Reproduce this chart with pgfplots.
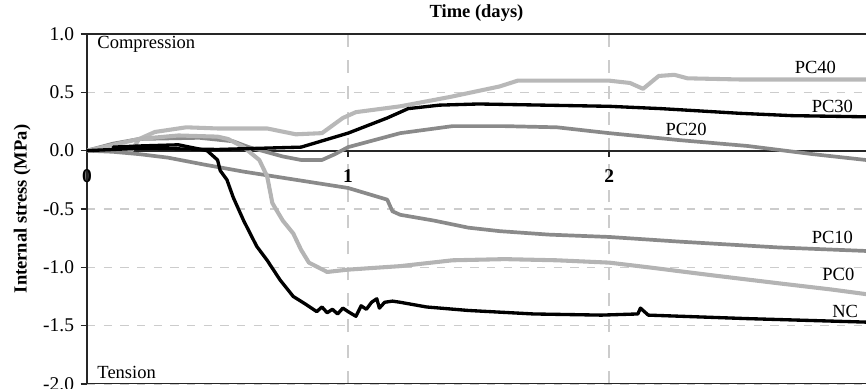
\documentclass[border=0pt]{standalone}
\usepackage{pgfplots}
\pgfplotsset{compat=1.18}
\usepackage{fontspec}
\setmainfont{Liberation Serif}
\definecolor{lg}{HTML}{B8B8B8}
\definecolor{mg}{HTML}{8A8A8A}
\definecolor{pz}{HTML}{B4B4B4}
\definecolor{gridc}{HTML}{CCCCCC}
\begin{document}
\begin{tikzpicture}
\begin{axis}[
  scale only axis, width=420.7pt, height=189pt,
  xmin=0, xmax=2.984, ymin=-2, ymax=1,
  axis y line=left, axis x line=middle,
  hide obscured x ticks=false,
  axis line style={-, line width=1.1pt, color=black!85},
  xtick={0,1,2}, xticklabels={0,1,2},
  ytick={-2,-1.5,-1,-0.5,0,0.5,1},
  yticklabels={-2.0,-1.5,-1.0,-0.5,0.0,0.5,1.0},
  tick align=outside, major tick length=3.5pt,
  tick style={line width=0.8pt, black!85},
  ticklabel style={font=\fontsize{10.5}{12}\selectfont},
  xticklabel style={font=\fontsize{10.5}{12}\selectfont\bfseries, yshift=-3pt},
  /pgf/number format/assume math mode=true,
  xmajorgrids, ymajorgrids,
  x grid style={gridc, line width=0.8pt, dash pattern=on 7pt off 7pt},
  y grid style={gridc, line width=0.8pt, dash pattern=on 4.5pt off 4.5pt},
  title={\textbf{Time (days)}},
  title style={yshift=-3pt},
  ylabel={\textbf{Internal stress (MPa)}},
  every axis plot/.append style={line join=round, line cap=round},
]
% PC40
\addplot[lg, line width=2.2pt] coordinates {
(0,0) (0.1,0.0) (0.17,0.0) (0.2,0.1) (0.26,0.16) (0.38,0.2) (0.5,0.19) (0.69,0.19)
(0.8,0.14) (0.9,0.15) (0.98,0.28) (1.03,0.33) (1.2,0.38) (1.39,0.46) (1.58,0.55)
(1.65,0.6) (1.75,0.6) (2.0,0.6) (2.08,0.58) (2.13,0.53) (2.19,0.64) (2.25,0.65)
(2.3,0.62) (2.5,0.61) (2.984,0.61)};
% PC20
\addplot[mg, line width=2.0pt] coordinates {
(0,0) (0.1,0.06) (0.2,0.1) (0.43,0.11) (0.56,0.08) (0.62,0.03) (0.75,-0.05)
(0.82,-0.08) (0.9,-0.08) (0.95,-0.03) (1.0,0.03) (1.2,0.15) (1.4,0.21) (1.6,0.21)
(1.8,0.2) (2.0,0.15) (2.27,0.09) (2.53,0.04) (2.78,-0.03) (2.984,-0.08)};
% PC10
\addplot[mg, line width=2.0pt] coordinates {
(0,0) (0.1,-0.01) (0.2,-0.03) (0.31,-0.06) (0.45,-0.12) (0.6,-0.18) (0.8,-0.25)
(1.0,-0.32) (1.15,-0.42) (1.17,-0.52) (1.2,-0.55) (1.33,-0.6) (1.46,-0.66)
(1.58,-0.69) (1.77,-0.72) (2.0,-0.74) (2.27,-0.78) (2.65,-0.83) (2.984,-0.86)};
% PC0
\addplot[pz, line width=2.2pt] coordinates {
(0,0) (0.1,0.05) (0.2,0.1) (0.35,0.13) (0.5,0.12) (0.54,0.1) (0.6,0.03) (0.66,-0.08)
(0.69,-0.22) (0.71,-0.45) (0.75,-0.6) (0.79,-0.71) (0.82,-0.85) (0.85,-0.96)
(0.92,-1.04) (1.0,-1.02) (1.2,-0.99) (1.4,-0.94) (1.6,-0.93) (1.8,-0.94)
(2.0,-0.96) (2.15,-1.0) (2.4,-1.07) (2.66,-1.14) (2.85,-1.19) (2.984,-1.23)};
% PC30
\addplot[black, line width=1.8pt] coordinates {
(0,0) (0.2,0.02) (0.5,0.01) (0.82,0.03) (1.0,0.15) (1.15,0.28) (1.23,0.36)
(1.35,0.39) (1.5,0.4) (1.75,0.39) (2.0,0.38) (2.2,0.36) (2.5,0.32) (2.7,0.3) (2.984,0.29)};
% NC
\addplot[black, line width=1.8pt] coordinates {
(0.1,0.03) (0.2,0.04) (0.35,0.05) (0.46,0.0) (0.5,-0.08) (0.51,-0.17) (0.536,-0.25)
(0.56,-0.4) (0.6,-0.6) (0.65,-0.82) (0.69,-0.94) (0.74,-1.11) (0.79,-1.25)
(0.84,-1.32) (0.86,-1.35) (0.88,-1.38) (0.9,-1.34) (0.92,-1.39) (0.94,-1.36)
(0.96,-1.4) (0.98,-1.35) (1.0,-1.38) (1.03,-1.42) (1.05,-1.33) (1.07,-1.36)
(1.09,-1.3) (1.11,-1.27) (1.12,-1.35) (1.14,-1.3) (1.17,-1.29) (1.2,-1.3)
(1.3,-1.34) (1.46,-1.37) (1.71,-1.4) (1.97,-1.41) (2.11,-1.4) (2.12,-1.35)
(2.15,-1.41) (2.53,-1.44) (2.984,-1.47)};
\draw[line width=1.1pt, black!85] (rel axis cs:0,1) -- (rel axis cs:1,1);
\draw[line width=1.1pt, black!85] (rel axis cs:0,0) -- (rel axis cs:1,0);
\node[anchor=west] at (axis cs:0.015,0.91) {Compression};
\node[anchor=west] at (axis cs:0.015,-1.9) {Tension};
\node at (axis cs:2.79,0.71) {PC40};
\node at (axis cs:2.855,0.375) {PC30};
\node at (axis cs:2.295,0.18) {PC20};
\node at (axis cs:2.855,-0.74) {PC10};
\node at (axis cs:2.878,-1.06) {PC0};
\node at (axis cs:2.904,-1.375) {NC};
\coordinate (bbA) at (rel axis cs:-0.1117,-0.0143);
\coordinate (bbB) at (rel axis cs:1,1.0971);
\end{axis}
\pgfresetboundingbox
\useasboundingbox (bbA) rectangle (bbB);
\end{tikzpicture}
\end{document}
